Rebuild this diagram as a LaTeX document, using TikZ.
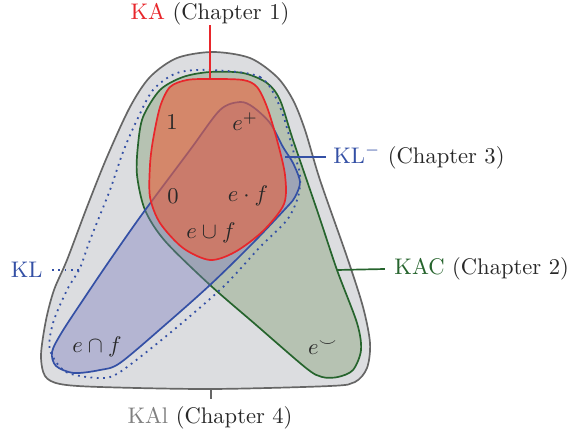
\documentclass[tikz,border=0pt]{standalone}
\usepackage{amssymb}
\definecolor{kared}{RGB}{232,38,43}
\definecolor{kafill}{RGB}{232,96,58}
\definecolor{klblue}{RGB}{52,80,165}
\definecolor{klfill}{RGB}{122,121,189}
\definecolor{kacgreen}{RGB}{38,100,45}
\definecolor{kacfill}{RGB}{182,194,178}
\definecolor{kalgray}{RGB}{102,102,102}
\definecolor{kalfill}{RGB}{220,221,224}
\definecolor{kaltext}{RGB}{128,128,128}
\definecolor{chap}{RGB}{40,40,40}
\tikzset{
  region/.style={line width=0.75pt, line join=round},
  lbl/.style={inner sep=0pt, font=\normalsize},
}
\begin{document}
\begin{tikzpicture}[x=0.443pt,y=-0.443pt]
\useasboundingbox (0,0) rectangle (569,435);
% KAl outer
\draw[region, draw=kalgray, fill=kalfill] plot[smooth cycle, tension=0.5] coordinates {
 (213,52) (250,58) (277,77) (293,100) (305,130) (320,180) (347,257) (363,307) (370,343) (367,368) (355,382)
 (330,386) (211,389) (100,387) (60,384) (45,376) (41,355) (46,320) (54,290) (67,260) (87,207)
 (107,157) (130,107) (150,77) (177,58)};
% KAC green
\draw[region, draw=kacgreen, fill=kacfill] plot[smooth cycle, tension=0.5] coordinates {
 (210,72) (243,73) (267,83) (280,100) (293,140) (318,213) (337,270) (357,323) (361,350) (353,370)
 (338,377) (322,377) (306,368) (255,324) (210,285) (165,241) (145,210) (137,175) (138,145)
 (143,117) (160,90) (183,77)};
% KL- blue
\draw[region, draw=klblue, fill=klfill, fill opacity=0.4] plot[smooth cycle, tension=0.5] coordinates {
 (240,102) (253,107) (270,123) (283,147) (293,163) (300,182) (295,197) (287,207) (252,244) (210,285)
 (165,325) (120,363) (100,370) (74,373) (56,366) (52,352) (62,332) (85,297) (110,260) (143,213)
 (190,150) (220,110)};
% KA red
\draw[region, draw=kared, fill=kafill, fill opacity=0.6] plot[smooth cycle, tension=0.5] coordinates {
 (210,79) (243,80) (257,87) (267,107) (277,140) (285,175) (284,204) (263,231) (235,252) (210,260)
 (183,248) (160,223) (150,197) (150,165) (153,140) (160,107) (170,87) (187,80)};
% KL dotted
\draw[klblue, line width=0.8pt, dotted] plot[smooth cycle, tension=0.5] coordinates {
 (210,70) (260,77) (280,107) (293,150) (300,175) (298,197) (287,220) (260,247) (223,287) (170,333)
 (120,372) (100,378) (66,372) (50,350) (53,323) (67,290) (80,268) (90,240) (110,190) (123,152)
 (137,120) (153,90) (177,73)};
% coordinates on shapes
\coordinate (katop) at (210,79);
\coordinate (klmside) at (285,157);
\coordinate (kacside) at (337,270);
\coordinate (klside) at (81,270);
\coordinate (kalbot) at (211,389);
% outer labels
\node[lbl, anchor=base] (ka) at (210,20) {\textcolor{kared}{KA} \textcolor{chap}{(Chapter 1)}};
\node[lbl, anchor=west] (klm) at (333,157) {\textcolor{klblue}{$\mathrm{KL}^{-}$} \textcolor{chap}{(Chapter 3)}};
\node[lbl, anchor=west] (kac) at (394,269) {\textcolor{kacgreen}{KAC} \textcolor{chap}{(Chapter 2)}};
\node[lbl, anchor=east, text=klblue] (kl) at (43,270) {KL};
\node[lbl, anchor=base] (kal) at (210,423) {\textcolor{kaltext}{KAl} \textcolor{chap}{(Chapter 4)}};
% connectors
\draw[kared, line width=0.75pt] (ka.south) ++(0,-1) -- (katop);
\draw[klblue, line width=0.75pt] (klmside) -- ([xshift=-3]klm.west);
\draw[kacgreen, line width=0.75pt] (kacside) -- ([xshift=-4]kac.west);
\draw[klblue, line width=0.8pt, dotted] ([xshift=4]kl.east) -- (klside);
\draw[kalgray, line width=0.75pt] (kalbot) -- (211,399);
% inner labels
\node[lbl, text=chap] (one) at (172,122) {$1$};
\node[lbl, text=chap] (eplus) at (245,122) {$e^{+}$};
\node[lbl, text=chap] (zero) at (173,196) {$0$};
\node[lbl, text=chap] (edot) at (248,196) {$e\cdot f$};
\node[lbl, text=chap] (ecup) at (211,233) {$e\cup f$};
\node[lbl, text=chap] (ecap) at (97,347) {$e\cap f$};
\node[lbl, text=chap] (econv) at (323,348) {$e^{\smile}$};
\end{tikzpicture}
\end{document}
